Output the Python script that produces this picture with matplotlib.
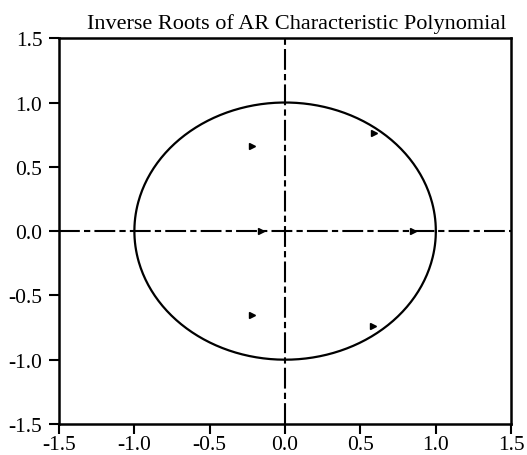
import numpy as np
import matplotlib
matplotlib.use("Agg")
import matplotlib.pyplot as plt

plt.rcParams["font.family"] = ["Liberation Serif", "DejaVu Serif"]

root_re = [-0.22, 0.59, -0.16, 0.85, -0.22, 0.58]
root_im = [0.66, 0.76, 0.00, 0.00, -0.65, -0.74]

ticks = [-1.5, -1.0, -0.5, 0.0, 0.5, 1.0, 1.5]
tick_labels = ["-1.5", "-1.0", "-0.5", "0.0", "0.5", "1.0", "1.5"]

fig = plt.figure(figsize=(5.27, 4.56), dpi=100)
ax = fig.add_axes([0.112, 0.068, 0.858, 0.846])

# unit circle
t = np.linspace(0, 2 * np.pi, 400)
ax.plot(np.cos(t), np.sin(t), color="black", linewidth=1.6)

# zero lines (dash-dot)
dash = (0, (10, 2, 3, 2))
ax.axhline(0, color="black", linewidth=1.5, linestyle=dash)
ax.axvline(0, color="black", linewidth=1.5, linestyle=dash)

ax.plot(root_re, root_im, linestyle="none", marker=">", markersize=5,
        color="black")

ax.set_xlim(-1.5, 1.5)
ax.set_ylim(-1.5, 1.5)
ax.set_xticks(ticks)
ax.set_xticklabels(tick_labels)
ax.set_yticks(ticks)
ax.set_yticklabels(tick_labels)
ax.tick_params(direction="out", length=7, width=1.5, labelsize=15.5,
               top=False, right=False)
ax.tick_params(axis="x", pad=1)
ax.tick_params(axis="y", pad=5)
for s in ax.spines.values():
    s.set_linewidth(1.8)

ax.set_title("Inverse Roots of AR Characteristic Polynomial", fontsize=16,
             pad=7, x=0.525)

fig.savefig("out.png", dpi=100)
